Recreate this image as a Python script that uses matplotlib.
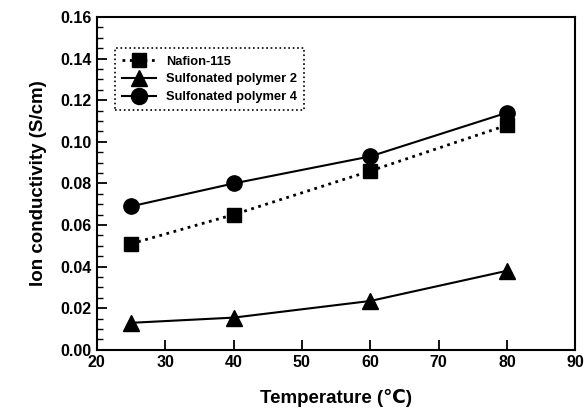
import matplotlib
matplotlib.use('Agg')
import matplotlib.pyplot as plt
from matplotlib.ticker import MultipleLocator

plt.rcParams['font.family'] = ['Liberation Sans', 'DejaVu Sans']
plt.rcParams['font.weight'] = 'bold'

temps = [25, 40, 60, 80]
nafion = [0.051, 0.065, 0.086, 0.108]
polymer2 = [0.013, 0.0155, 0.0235, 0.038]
polymer4 = [0.069, 0.080, 0.093, 0.114]

fig = plt.figure(figsize=(5.87, 4.16), dpi=100)
ax = fig.add_axes([0.165, 0.159, 0.815, 0.8])

ax.plot(temps, nafion, color='black', linestyle=':', linewidth=2, marker='s', markersize=10, label='Nafion-115')
ax.plot(temps, polymer2, color='black', linestyle='-', linewidth=1.5, marker='^', markersize=11, label='Sulfonated polymer 2')
ax.plot(temps, polymer4, color='black', linestyle='-', linewidth=1.5, marker='o', markersize=11, label='Sulfonated polymer 4')

ax.set_xlim(20, 90)
ax.set_ylim(0, 0.16)
ax.xaxis.set_major_locator(MultipleLocator(10))
ax.yaxis.set_major_locator(MultipleLocator(0.02))
ax.yaxis.set_minor_locator(MultipleLocator(0.005))
ax.yaxis.set_major_formatter(matplotlib.ticker.FormatStrFormatter('%.2f'))
ax.tick_params(axis='both', which='major', direction='in', length=7, width=1.3, labelsize=11.5)
ax.tick_params(axis='y', which='minor', direction='in', length=4, width=1)
for s in ax.spines.values():
    s.set_linewidth(1.5)

ax.set_xlabel('Temperature (\u2103)', fontsize=13.5, fontweight='bold', labelpad=14)
ax.set_ylabel('Ion conductivity (S/cm)', fontsize=13.5, fontweight='bold', labelpad=10)

leg = ax.legend(loc='upper left', bbox_to_anchor=(0.025, 0.925), fontsize=9.3, fancybox=False,
                edgecolor='black', framealpha=1, handlelength=2.6, borderpad=0.55,
                labelspacing=0.45, markerscale=1.05)
leg.get_frame().set_linestyle(':')
leg.get_frame().set_linewidth(1.2)

fig.savefig('out.png', dpi=100)
